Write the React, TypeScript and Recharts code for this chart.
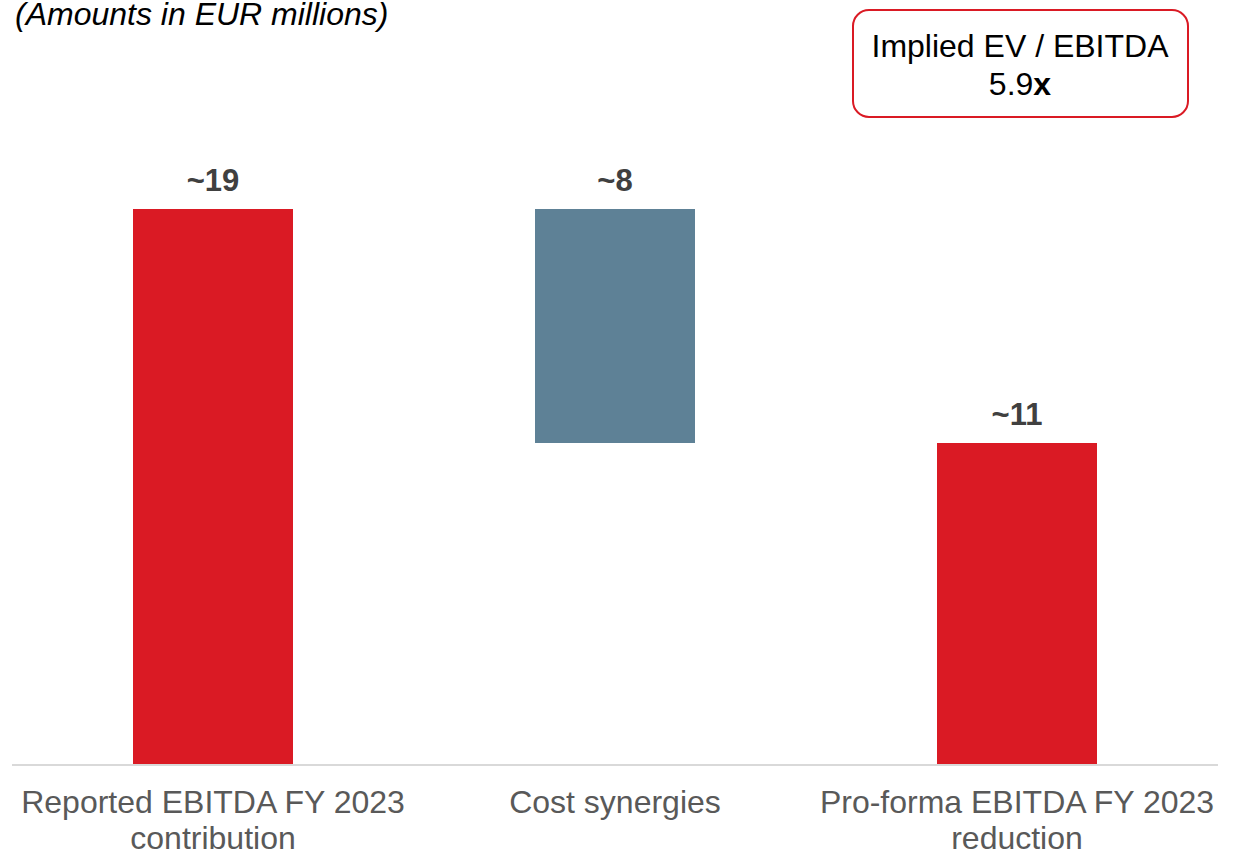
import React from 'react';
import { BarChart, Bar, XAxis, YAxis, Cell, LabelList } from 'recharts';

// waterfall: invisible base + visible step
const categories = [
    ['Reported EBITDA FY 2023', 'contribution'],
    ['Cost synergies'],
    ['Pro-forma EBITDA FY 2023', 'reduction'],
];
const baseValues = [0, 11, 0];
const stepValues = [19, 8, 11];
const valueLabels = ['~19', '~8', '~11'];
const barColors = ['#DA1A24', '#5E8196', '#DA1A24'];

const data = categories.map((lines, i) => ({
    name: lines.join('|'),
    base: baseValues[i],
    step: stepValues[i],
    label: valueLabels[i],
}));

const FONT = '"Liberation Sans", Arial, sans-serif';

const CategoryTick = (props: any) => {
    const { x, y, payload } = props;
    const lines = String(payload.value).split('|');
    return (
        <g>
            {lines.map((line, i) => (
                <text key={i} x={x} y={y + 48 + i * 36} textAnchor="middle" fill="#595959" fontSize={32} fontFamily={FONT}>
                    {line}
                </text>
            ))}
        </g>
    );
};

const StepLabel = (props: any) => {
    const { x, y, width, index } = props;
    return (
        <text x={x + width / 2} y={y - 18} textAnchor="middle" fill="#404040" fontSize={31} fontWeight="bold" fontFamily={FONT}>
            {valueLabels[index]}
        </text>
    );
};

export default function App() {
    return (
        <div style={{ position: 'absolute', left: 0, top: 0, width: 1237, height: 854, background: '#fff' }}>
            <BarChart width={1237} height={854} data={data} margin={{ top: 209, right: 19, left: 12, bottom: 0 }} barSize={160}>
                <XAxis
                    dataKey="name"
                    height={89}
                    tickLine={false}
                    tickSize={0}
                    tickMargin={0}
                    axisLine={{ stroke: '#D9D9D9', strokeWidth: 2 }}
                    tick={<CategoryTick />}
                    interval={0}
                />
                <YAxis hide domain={[0, 19]} />
                <Bar dataKey="base" stackId="w" fill="transparent" isAnimationActive={false} />
                <Bar dataKey="step" stackId="w" isAnimationActive={false}>
                    {data.map((d, i) => (
                        <Cell key={d.name} fill={barColors[i]} />
                    ))}
                    <LabelList dataKey="label" content={<StepLabel />} />
                </Bar>
            </BarChart>

            {/* Header notes */}
            <svg width={1237} height={130} style={{ position: 'absolute', left: 0, top: 0 }}>
                <text x={15} y={25} fontSize={32} fontStyle="italic" fill="#000" fontFamily={FONT}>
                    (Amounts in EUR millions)
                </text>
                <rect x={853} y={10} width={335} height={107} rx={16} ry={16} fill="#fff" stroke="#DA1A24" strokeWidth={2} />
                <text x={1020} y={57} textAnchor="middle" fontSize={32} fill="#000" fontFamily={FONT}>
                    Implied EV / EBITDA
                </text>
                <text x={1020} y={95} textAnchor="middle" fontSize={32} fill="#000" fontFamily={FONT}>
                    5.9<tspan fontWeight="bold">x</tspan>
                </text>
            </svg>
        </div>
    );
}
